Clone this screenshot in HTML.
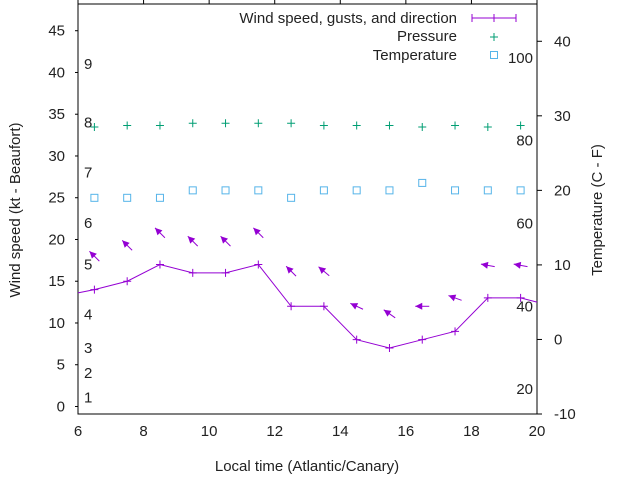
<!DOCTYPE html>
<html><head><meta charset="utf-8"><style>
body{margin:0;background:#fff}
svg{display:block;font-family:"Liberation Sans",Arial,sans-serif}
</style></head><body>
<svg id="chart" width="640" height="480" viewBox="0 0 640 480">
<g id="axes"></g><g id="marks"></g>
<g font-size="15" fill="#222" text-anchor="end">
 <text x="457" y="23">Wind speed, gusts, and direction</text>
 <g stroke="#9400d3" stroke-width="1"><line x1="472" y1="18" x2="516" y2="18"/><line x1="472" y1="14" x2="472" y2="22"/><line x1="516" y1="14" x2="516" y2="22"/><line x1="494" y1="14" x2="494" y2="22"/></g>
 <text x="457" y="41">Pressure</text>
 <g stroke="#009e73"><line x1="490" y1="37" x2="498" y2="37"/><line x1="494" y1="33" x2="494" y2="41"/></g>
 <text x="457" y="60">Temperature</text>
 <rect x="490.5" y="51.5" width="7" height="7" fill="none" stroke="#56b4e9"/>
</g>
<text transform="translate(20,210) rotate(-90)" text-anchor="middle" font-size="15" fill="#222">Wind speed (kt - Beaufort)</text>
<text transform="translate(602,210) rotate(-90)" text-anchor="middle" font-size="15" fill="#222">Temperature (C - F)</text>
<text x="307" y="471" text-anchor="middle" font-size="15" fill="#222">Local time (Atlantic/Canary)</text>
</svg>
<script>
const hours = [6.5,7.5,8.5,9.5,10.5,11.5,12.5,13.5,14.5,15.5,16.5,17.5,18.5,19.5];
const windSpeed = [14,15,17,16,16,17,12,12,8,7,8,9,13,13];
const windStart = 13.6;
const windEnd = 12.5;
const gusts = [18,19.3,20.8,19.8,19.8,20.8,16.2,16.2,12,11.1,12,13,16.9,16.9];
const windDir = [135,135,135,135,135,135,135,130,115,125,90,110,100,100];
const pressure = [28.5,28.7,28.7,29.0,29.0,29.0,29.0,28.7,28.7,28.7,28.5,28.7,28.5,28.7];
const temperature = [19,19,19,20,20,20,19,20,20,20,21,20,20,20];
const xTicks = [6,8,10,12,14,16,18,20];
const yTicks = [0,5,10,15,20,25,30,35,40,45];
const y2Ticks = [-10,0,10,20,30,40];
const beaufortLabels = [1,2,3,4,5,6,7,8,9];
const beaufortKt = [1.1,4,7,11,17,22,28,34,41];
const fahrenheitLabels = [20,40,60,80,100];

const L=78,R=537,T=4,B=414;
const X=v=>L+(v-6)/(20-6)*(R-L);
const Y=v=>B-(v+0.9)/(48.2+0.9)*(B-T);
const Y2=v=>B-(v+10)/(45+10)*(B-T);
const NS='http://www.w3.org/2000/svg';
function mk(tag,attrs,parent){const e=document.createElementNS(NS,tag);for(const k in attrs)e.setAttribute(k,attrs[k]);parent.appendChild(e);return e;}
const ax=document.getElementById('axes'), mg=document.getElementById('marks');

const frame=mk('rect',{x:L,y:T,width:R-L,height:B-T,fill:'none',stroke:'#000','stroke-width':1},ax);


xTicks.forEach(t=>{
  const x=X(t);
  mk('line',{x1:x,y1:0,x2:x,y2:T,stroke:'#000'},ax);
  const tx=mk('text',{x:x,y:B+22,'text-anchor':'middle','font-size':15,fill:'#222'},ax);
  tx.textContent=t;
  
  
});
yTicks.forEach(t=>{
  const y=Y(t);
  mk('line',{x1:L-3,y1:y,x2:L,y2:y,stroke:'#000'},ax);
  const tx=mk('text',{x:65,y:y+5,'text-anchor':'end','font-size':15,fill:'#222'},ax);
  tx.textContent=t;
  
  
});
y2Ticks.forEach(t=>{
  const y=Y2(t);
  mk('line',{x1:R,y1:y,x2:R+5,y2:y,stroke:'#000'},ax);
  const tx=mk('text',{x:554,y:y+5,'text-anchor':'start','font-size':15,fill:'#222'},ax);
  tx.textContent=t;
  
  
});
beaufortLabels.forEach((b,i)=>{
  const tx=mk('text',{x:84,y:Y(beaufortKt[i])+5,'font-size':15,fill:'#222'},ax);
  tx.textContent=b;
  
  
});
fahrenheitLabels.forEach(f=>{
  const c=(f-32)*5/9;
  const tx=mk('text',{x:533,y:Y2(c)+5,'text-anchor':'end','font-size':15,fill:'#222'},ax);
  tx.textContent=f;
  
  
});

// wind line
const pts=[[X(6),Y(windStart)]].concat(hours.map((h,i)=>[X(h),Y(windSpeed[i])])).concat([[X(20),Y(windEnd)]]);
const wl=mk('polyline',{points:pts.map(p=>p.join(',')).join(' '),fill:'none',stroke:'#9400d3','stroke-width':1},mg);


hours.forEach((h,i)=>{
  const x=X(h),y=Y(windSpeed[i]);
  const p=mk('path',{d:`M${x-4},${y}H${x+4}M${x},${y-4}V${y+4}`,stroke:'#9400d3'},mg);
  
  
});
// direction arrows
hours.forEach((h,i)=>{
  const cx=X(h),cy=Y(gusts[i]);
  const a=windDir[i]*Math.PI/180;
  // wind from direction: arrow points opposite
  const dx=-Math.sin(a), dy=Math.cos(a); // screen direction of travel
  const len=7;
  const hx=cx+dx*len, hy=cy+dy*len, tx=cx-dx*len, ty=cy-dy*len;
  const g=mk('g',{},mg);
  
  
  mk('line',{x1:tx,y1:ty,x2:hx,y2:hy,stroke:'#9400d3','stroke-width':1},g);
  const px=-dy, py=dx, hl=7, hw=3.5;
  const bx=hx-dx*hl, by=hy-dy*hl;
  mk('polygon',{points:`${hx},${hy} ${bx+px*hw},${by+py*hw} ${bx-px*hw},${by-py*hw}`,fill:'#9400d3'},g);
});
pressure.forEach((p,i)=>{
  const x=X(hours[i]),y=Y2(p);
  const e=mk('path',{d:`M${x-4},${y}H${x+4}M${x},${y-4}V${y+4}`,stroke:'#009e73'},mg);
  
  
});
temperature.forEach((t,i)=>{
  const x=X(hours[i]),y=Y2(t);
  const e=mk('rect',{x:x-3.5,y:y-3.5,width:7,height:7,fill:'none',stroke:'#56b4e9'},mg);
  
  
});
</script>
</body></html>
